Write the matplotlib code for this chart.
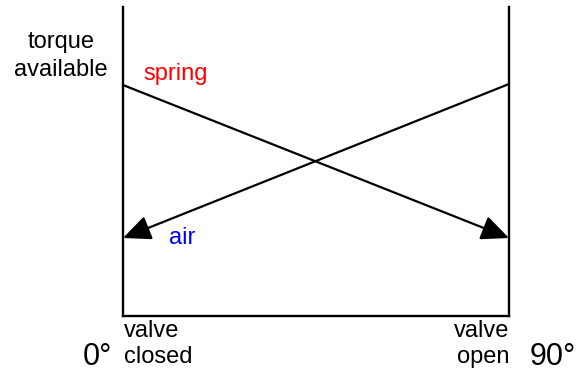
import matplotlib
matplotlib.use('Agg')
import matplotlib.pyplot as plt

plt.rcParams['font.family'] = ['Liberation Sans', 'DejaVu Sans']

# Ventilstellung in Grad, Drehmoment (willkuerliche Einheiten)
angles = [0, 90]
spring_torque = [231, 78]
air_torque = [78, 232]

fig = plt.figure(figsize=(5.81, 3.78), dpi=100)
ax = fig.add_axes([123 / 581, 62 / 378, 386 / 581, 309 / 378])
ax.set_xlim(0, 90)
ax.set_ylim(0, 309)
ax.spines['top'].set_visible(False)
for s in ('left', 'right', 'bottom'):
    ax.spines[s].set_linewidth(1.7)
ax.set_xticks([])
ax.set_yticks([])

arrow = dict(arrowstyle='-|>,head_length=0.85,head_width=0.38', mutation_scale=20,
             color='black', lw=1.6, shrinkA=0, shrinkB=0)
ax.annotate('', xy=(angles[1], spring_torque[1]), xytext=(angles[0], spring_torque[0]),
            arrowprops=arrow, annotation_clip=False)
ax.annotate('', xy=(angles[0], air_torque[0]), xytext=(angles[1], air_torque[1]),
            arrowprops=arrow, annotation_clip=False)

fs = 17
ax.text(-14.5, 260, 'torque\navailable', ha='center', va='center', fontsize=fs,
        linespacing=1.35, clip_on=False)
ax.text(4.7, 242, 'spring', color='#ff0000', ha='left', va='center', fontsize=fs)
ax.text(10.7, 78, 'air', color='#0000ff', ha='left', va='center', fontsize=fs)
ax.text(0.2, -15, 'valve', ha='left', va='center', fontsize=fs, clip_on=False)
ax.text(0.2, -41, 'closed', ha='left', va='center', fontsize=fs, clip_on=False)
ax.text(90, -15, 'valve', ha='right', va='center', fontsize=fs, clip_on=False)
ax.text(90, -41, 'open', ha='right', va='center', fontsize=fs, clip_on=False)
ax.text(-2.6, -41, '0°', ha='right', va='center', fontsize=22, clip_on=False)
ax.text(94.9, -41, '90°', ha='left', va='center', fontsize=22, clip_on=False)

fig.savefig('out.png', dpi=100)
